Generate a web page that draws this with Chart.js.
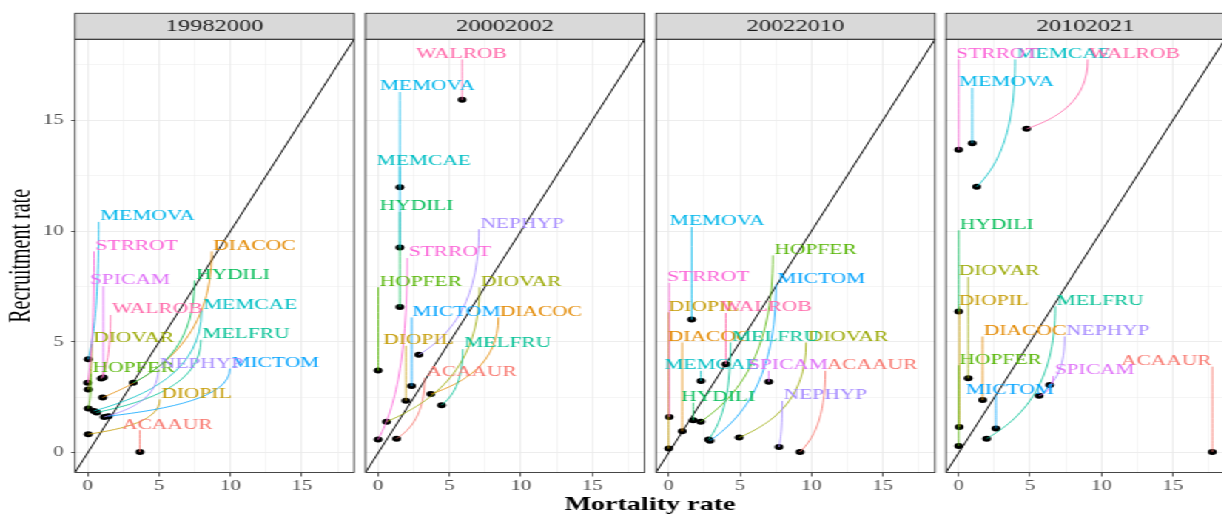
<!DOCTYPE html>
<html>
<head>
<meta charset="utf-8">
<script src="https://cdn.jsdelivr.net/npm/chart.js@4.4.1/dist/chart.umd.min.js"></script>
<style>
  html, body { margin: 0; padding: 0; background: #fff; overflow: hidden; }
  #wrap { position: relative; width: 840px; height: 515px; transform: scaleX(1.48); transform-origin: 0 0; }
  #wrap canvas { position: absolute; left: 0; top: 0; }
</style>
</head>
<body>
<div id="wrap"></div>
<script>
// species codes, alphabetical (ggplot hue order)
const species = ['ACAAUR', 'DIACOC', 'DIOPIL', 'DIOVAR', 'HOPFER', 'HYDILI', 'MELFRU',
                 'MEMCAE', 'MEMOVA', 'MICTOM', 'NEPHYP', 'SPICAM', 'STRROT', 'WALROB'];
const periods = ['19982000', '20002002', '20022010', '20102021'];

// 1998-2000
const mort1998 = [3.66, 1.05, 0.04, 0.04, 0.04, 3.19, 0.63, 0.44, 0.04, 1.45, 1.16, 1.10, 0.00, 0.95];
const recr1998 = [0.04, 2.50, 0.84, 2.86, 2.00, 3.16, 1.82, 1.89, 4.22, 1.65, 1.62, 3.40, 3.16, 3.35];
const labMort1998 = [5.58, 11.68, 7.62, 3.22, 3.22, 10.18, 11.09, 11.38, 4.20, 13.15, 7.97, 2.96, 3.43, 4.88];
const labRecr1998 = [1.29, 9.36, 2.68, 5.18, 3.84, 8.05, 5.37, 6.69, 10.69, 4.07, 4.04, 7.79, 9.36, 6.49];

// 2000-2002 (no SPICAM)
const mort2000 = [1.29, 3.69, 1.94, 0.59, 0.00, 1.52, 4.44, 1.52, 1.52, 2.34, 2.85, null, 0.00, 5.88];
const recr2000 = [0.64, 2.65, 2.35, 1.40, 3.71, 6.58, 2.15, 11.98, 9.26, 3.01, 4.42, null, 0.60, 15.93];
const labMort2000 = [6.54, 11.40, 2.83, 10.03, 2.98, 2.69, 9.08, 3.20, 3.45, 5.49, 10.09, null, 5.02, 5.84];
const labRecr2000 = [3.66, 6.38, 5.10, 7.74, 7.74, 11.14, 4.95, 13.18, 16.55, 6.38, 10.36, null, 9.06, 18.02];

// 2002-2010
const mort2002 = [9.20, 0.95, 0.00, 4.94, 2.24, 1.72, 2.80, 2.26, 1.61, 2.89, 7.73, 7.01, 0.04, 4.01];
const recr2002 = [0.04, 0.97, 0.19, 0.69, 1.40, 1.47, 0.60, 3.24, 6.01, 0.54, 0.26, 3.21, 1.62, 4.00];
const labMort2002 = [14.25, 2.82, 2.47, 12.56, 10.29, 3.47, 7.49, 3.00, 3.41, 10.70, 10.98, 8.36, 2.77, 6.85];
const labRecr2002 = [3.97, 5.25, 6.61, 5.25, 9.18, 2.53, 5.25, 3.97, 10.46, 7.87, 2.61, 3.97, 7.94, 6.58];

// 2010-2021
const mort2010 = [17.77, 1.68, 0.04, 0.67, 0.00, 0.00, 1.96, 1.26, 0.95, 2.61, 6.38, 5.64, 0.00, 4.76];
const recr2010 = [0.04, 2.38, 1.17, 3.36, 0.31, 6.38, 0.64, 12.00, 13.97, 1.10, 3.06, 2.57, 13.67, 14.62];
const labMort2010 = [14.55, 4.64, 2.45, 2.83, 2.94, 2.66, 9.92, 7.36, 3.36, 3.59, 10.45, 9.53, 2.71, 12.32];
const labRecr2010 = [4.16, 5.52, 6.88, 8.20, 4.22, 10.31, 6.88, 18.02, 16.74, 2.86, 5.52, 3.74, 18.02, 18.02];

const majorTicks = [0, 5, 10, 15];
const gridTicks = [0, 2.5, 5, 7.5, 10, 12.5, 15, 17.5];

const panels = [
  { mort: mort1998, recr: recr1998, labMort: labMort1998, labRecr: labRecr1998 },
  { mort: mort2000, recr: recr2000, labMort: labMort2000, labRecr: labRecr2000 },
  { mort: mort2002, recr: recr2002, labMort: labMort2002, labRecr: labRecr2002 },
  { mort: mort2010, recr: recr2010, labMort: labMort2010, labRecr: labRecr2010 }
];

// ggplot default hue palette for 14 levels
const speciesColors = ['#F8766D', '#E38900', '#C49A00', '#99A800', '#53B400', '#00BC56', '#00C094',
                       '#00BFC4', '#00B6EB', '#06A4FF', '#A58AFF', '#DF70F8', '#FB61D7', '#FF66A8'];

// shared limits for both axes, 5% expansion like ggplot
const lim = Math.max(...panels.flatMap(p => p.mort.filter(v => v !== null)));
const lo = -0.05 * lim, hi = 1.05 * lim;

// layout (drawn narrow, stretched horizontally by the wrapper)
const SX = 1.48;
const W = 840, H = 515;
const panelLeft = [75, 365.5, 656, 946].map(v => v / SX);
const panelW = 279 / SX;
const panelTop = 39.3, panelBottom = 472.5;
const stripTop = 13.3;
const xAxisH = 30, yAxisW = 40;
const serif = '"Liberation Serif", "Times New Roman", serif';

const isMajor = v => majorTicks.includes(v);

const facetPlugin = {
  id: 'facet',
  afterDatasetsDraw(chart, args, opts) {
    const { ctx, scales: { x, y } } = chart;
    const p = panels[opts.panel];
    ctx.save();
    ctx.font = '14.5px ' + serif;
    const items = [];
    species.forEach((name, i) => {
      if (p.mort[i] === null) return;
      const px = x.getPixelForValue(p.mort[i]), py = y.getPixelForValue(p.recr[i]);
      const cx = x.getPixelForValue(p.labMort[i]), cy = y.getPixelForValue(p.labRecr[i]);
      const hw = ctx.measureText(name).width / 2 + 1, hh = 6;
      const sx = Math.min(Math.max(px, cx - hw), cx + hw);
      const sy = Math.min(Math.max(py, cy - hh), cy + hh);
      items.push({ name, color: speciesColors[i], px, py, cx, cy, sx, sy });
    });
    // connector segments
    ctx.lineWidth = 0.8;
    items.forEach(it => {
      const dx = it.px - it.sx, dy = it.py - it.sy;
      if (Math.hypot(dx, dy) < 2) return;
      ctx.strokeStyle = it.color;
      ctx.beginPath();
      ctx.moveTo(it.sx, it.sy);
      ctx.bezierCurveTo(it.sx, it.sy + 0.6 * dy, it.sx + 0.5 * dx, it.sy + 0.85 * dy, it.px, it.py);
      ctx.stroke();
    });
    // species labels
    ctx.textAlign = 'center';
    ctx.textBaseline = 'middle';
    items.forEach(it => {
      ctx.fillStyle = it.color;
      ctx.fillText(it.name, it.cx, it.cy + 0.5);
    });
    ctx.restore();
  },
  afterDraw(chart, args, opts) {
    const { ctx, chartArea: a } = chart;
    ctx.save();
    // strip
    ctx.fillStyle = '#D9D9D9';
    ctx.fillRect(a.left, stripTop, a.right - a.left, a.top - stripTop);
    ctx.strokeStyle = '#333333';
    ctx.lineWidth = 0.9;
    ctx.strokeRect(a.left, stripTop, a.right - a.left, a.top - stripTop);
    ctx.fillStyle = '#1A1A1A';
    ctx.font = '16.5px ' + serif;
    ctx.textAlign = 'center';
    ctx.textBaseline = 'middle';
    ctx.fillText(periods[opts.panel], (a.left + a.right) / 2, (stripTop + a.top) / 2 + 0.5);
    // panel border
    ctx.strokeRect(a.left, a.top, a.right - a.left, a.bottom - a.top);
    if (opts.panel === 0) {
      ctx.fillStyle = '#000';
      ctx.font = '20px ' + serif;
      ctx.save();
      ctx.translate(15, (a.top + a.bottom) / 2);
      ctx.rotate(-Math.PI / 2);
      ctx.fillText('Recruitment rate', 0, 0);
      ctx.restore();
      ctx.font = 'bold 19px ' + serif;
      ctx.fillText('Mortality rate', 650 / SX, 505);
    }
    ctx.restore();
  }
};

const wrap = document.getElementById('wrap');
panels.forEach((p, k) => {
  const cv = document.createElement('canvas');
  cv.width = W; cv.height = H;
  cv.style.width = W + 'px'; cv.style.height = H + 'px';
  wrap.appendChild(cv);
  const points = p.mort.map((m, i) => ({ x: m, y: p.recr[i] })).filter(d => d.x !== null);
  const first = k === 0;
  const yW = first ? yAxisW : 0;
  new Chart(cv, {
    type: 'scatter',
    data: {
      datasets: [
        { data: [{ x: lo, y: lo }, { x: hi, y: hi }], showLine: true, borderColor: '#000',
          borderWidth: 1, pointRadius: 0, order: 2 },
        { data: points, pointRadius: 3, pointBackgroundColor: '#000', pointBorderWidth: 0, order: 1 }
      ]
    },
    options: {
      responsive: false,
      animation: false,
      devicePixelRatio: 1,
      events: [],
      layout: {
        padding: {
          left: panelLeft[k] - yW,
          right: W - panelLeft[k] - panelW,
          top: panelTop,
          bottom: H - panelBottom - xAxisH
        }
      },
      plugins: { legend: { display: false }, tooltip: { enabled: false }, facet: { panel: k } },
      scales: {
        x: {
          type: 'linear', min: lo, max: hi,
          afterBuildTicks: s => { s.ticks = gridTicks.map(v => ({ value: v })); },
          afterFit: s => { s.height = xAxisH; },
          border: { display: false },
          grid: {
            color: '#EBEBEB',
            lineWidth: c => (c.tick && isMajor(c.tick.value)) ? 0.9 : 0.5,
            tickLength: 4,
            tickWidth: 0.8,
            tickColor: c => (c.tick && isMajor(c.tick.value)) ? '#333333' : 'rgba(0,0,0,0)'
          },
          ticks: {
            autoSkip: false, maxRotation: 0, padding: 1, color: '#4D4D4D',
            font: { family: serif, size: 14 },
            callback: v => isMajor(v) ? String(v) : ''
          }
        },
        y: {
          type: 'linear', min: lo, max: hi,
          afterBuildTicks: s => { s.ticks = gridTicks.map(v => ({ value: v })); },
          afterFit: s => { s.width = yW; },
          border: { display: false },
          grid: {
            color: '#EBEBEB',
            lineWidth: c => (c.tick && isMajor(c.tick.value)) ? 0.9 : 0.5,
            drawTicks: first,
            tickLength: 2.7,
            tickWidth: 0.8,
            tickColor: c => (c.tick && isMajor(c.tick.value)) ? '#333333' : 'rgba(0,0,0,0)'
          },
          ticks: {
            display: first, autoSkip: false, padding: 5, color: '#4D4D4D',
            font: { family: serif, size: 14 },
            callback: v => isMajor(v) ? String(v) : ''
          }
        }
      }
    },
    plugins: [facetPlugin]
  });
});
</script>
</body>
</html>
